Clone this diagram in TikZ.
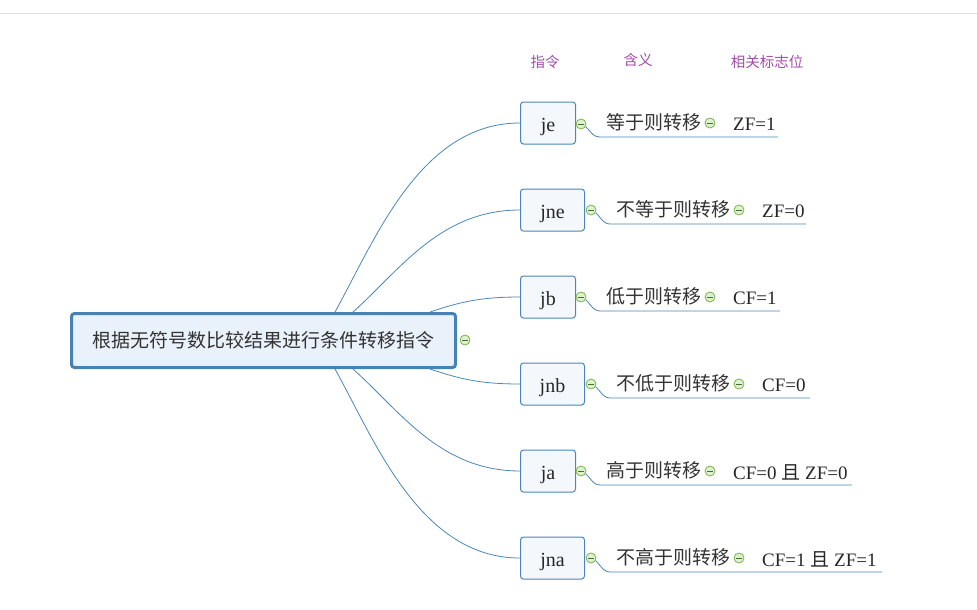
\documentclass[tikz,border=0pt]{standalone}
\usepackage{fontspec}
\setmainfont{Liberation Serif}
\newfontfamily\cjk{Noto Sans CJK SC}
\usetikzlibrary{backgrounds}

\definecolor{linkblue}{HTML}{4A86B8}
\definecolor{rootblue}{HTML}{4682B4}
\definecolor{rootfill}{HTML}{E9F1FA}
\definecolor{childfill}{HTML}{F4F8FC}
\definecolor{foldgreen}{HTML}{79B548}
\definecolor{foldfill}{HTML}{DDF0CF}
\definecolor{headpurple}{HTML}{A24DAA}
\definecolor{textgray}{HTML}{333333}

\tikzset{
  root/.style={draw=rootblue, line width=3pt, fill=rootfill, rounded corners=3pt,
    minimum width=384pt, minimum height=54pt, inner sep=0pt,
    font=\cjk\fontsize{19}{22}\selectfont, text=textgray},
  instr/.style={draw=linkblue, line width=1pt, fill=childfill, rounded corners=3pt,
    minimum height=42pt, inner sep=0pt, anchor=west,
    text height=20pt, text depth=4pt,
    font=\fontsize{20}{22}\selectfont, text=black!85},
  meaning/.style={anchor=west, inner sep=0pt, font=\cjk\fontsize{19}{22}\selectfont, text=textgray},
  flag/.style={anchor=west, inner sep=0pt, font=\fontsize{19}{22}\selectfont, text=black!85},
  head/.style={inner sep=0pt, font=\cjk\fontsize{14.5}{16}\selectfont, text=headpurple},
  fold/.style={circle, draw=foldgreen, fill=foldfill, line width=0.8pt,
    minimum size=10pt, inner sep=0pt,
    path picture={\draw[foldgreen!60!black, line width=1pt]
      ([xshift=-3pt]path picture bounding box.center) --
      ([xshift=3pt]path picture bounding box.center);}},
  link/.style={draw=linkblue, line width=0.8pt},
}

\begin{document}
\begin{tikzpicture}[x=1pt, y=-1pt]

  \useasboundingbox (0,0) rectangle (977,610);
  \draw[black!12, line width=1pt] (0,14) -- (977,14);

  % column heads
  \node[head] (h-instr) at (545,62) {指令};
  \node[head] (h-mean) at (638,60) {含义};
  \node[head] (h-flag) at (767,62) {相关标志位};

  % central topic
  \node[root] (root) at (263.5,340.5) {根据无符号数比较结果进行条件转移指令};
  \node[fold] (root-o) at (465,340) {};

  % instructions
  \node[instr, minimum width=55pt] (je) at (520,123) {je};
  \node[instr, minimum width=64pt] (jne) at (520,210) {jne};
  \node[instr, minimum width=55pt] (jb) at (520,297) {jb};
  \node[instr, minimum width=64pt] (jnb) at (520,384) {jnb};
  \node[instr, minimum width=55pt] (ja) at (520,471) {ja};
  \node[instr, minimum width=64pt] (jna) at (520,558) {jna};

  \begin{pgfonlayer}{background}
    \draw[link] ([xshift=71.5pt]root.north) .. controls +(40,-72) and +(-100,0) .. (je.west);
    \draw[link] ([xshift=89.5pt]root.north) .. controls +(47,-42) and +(-80,0) .. (jne.west);
    \draw[link] ([xshift=166.5pt]root.north) .. controls +(30,-10) and +(-40,0) .. (jb.west);
    \draw[link] ([xshift=166.5pt]root.south) .. controls +(30,10) and +(-40,0) .. (jnb.west);
    \draw[link] ([xshift=89.5pt]root.south) .. controls +(47,42) and +(-80,0) .. (ja.west);
    \draw[link] ([xshift=71.5pt]root.south) .. controls +(40,72) and +(-100,0) .. (jna.west);
  \end{pgfonlayer}

  % je
  \node[fold] (je-o) at (581,124) {};
  \node[meaning] (je-m) at (606,122) {等于则转移};
  \node[fold] (je-p) at (710,123) {};
  \node[flag] (je-f) at (733,124) {ZF=1};
  \coordinate (je-u) at (778,137);
  \draw[link] (je-o.-30) .. controls +(7,7) and +(-8,0) .. (601,137 |- je-u) -- (je-u);

  % jne
  \node[fold] (jne-o) at (591,210) {};
  \node[meaning] (jne-m) at (616,209) {不等于则转移};
  \node[fold] (jne-p) at (739,210) {};
  \node[flag] (jne-f) at (762,211) {ZF=0};
  \coordinate (jne-u) at (806,224);
  \draw[link] (jne-o.-30) .. controls +(7,7) and +(-8,0) .. (611,224 |- jne-u) -- (jne-u);

  % jb
  \node[fold] (jb-o) at (581,297) {};
  \node[meaning] (jb-m) at (606,296) {低于则转移};
  \node[fold] (jb-p) at (710,297) {};
  \node[flag] (jb-f) at (733,298) {CF=1};
  \coordinate (jb-u) at (780,311);
  \draw[link] (jb-o.-30) .. controls +(7,7) and +(-8,0) .. (601,311 |- jb-u) -- (jb-u);

  % jnb
  \node[fold] (jnb-o) at (591,384) {};
  \node[meaning] (jnb-m) at (616,383) {不低于则转移};
  \node[fold] (jnb-p) at (739,384) {};
  \node[flag] (jnb-f) at (762,385) {CF=0};
  \coordinate (jnb-u) at (810,398);
  \draw[link] (jnb-o.-30) .. controls +(7,7) and +(-8,0) .. (611,398 |- jnb-u) -- (jnb-u);

  % ja
  \node[fold] (ja-o) at (581,471) {};
  \node[meaning] (ja-m) at (606,470) {高于则转移};
  \node[fold] (ja-p) at (710,471) {};
  \node[flag] (ja-f) at (733,472) {CF=0 {\cjk 且} ZF=0};
  \coordinate (ja-u) at (852,485);
  \draw[link] (ja-o.-30) .. controls +(7,7) and +(-8,0) .. (601,485 |- ja-u) -- (ja-u);

  % jna
  \node[fold] (jna-o) at (591,558) {};
  \node[meaning] (jna-m) at (616,557) {不高于则转移};
  \node[fold] (jna-p) at (739,558) {};
  \node[flag] (jna-f) at (762,559) {CF=1 {\cjk 且} ZF=1};
  \coordinate (jna-u) at (882,572);
  \draw[link] (jna-o.-30) .. controls +(7,7) and +(-8,0) .. (611,572 |- jna-u) -- (jna-u);
\end{tikzpicture}
\end{document}
